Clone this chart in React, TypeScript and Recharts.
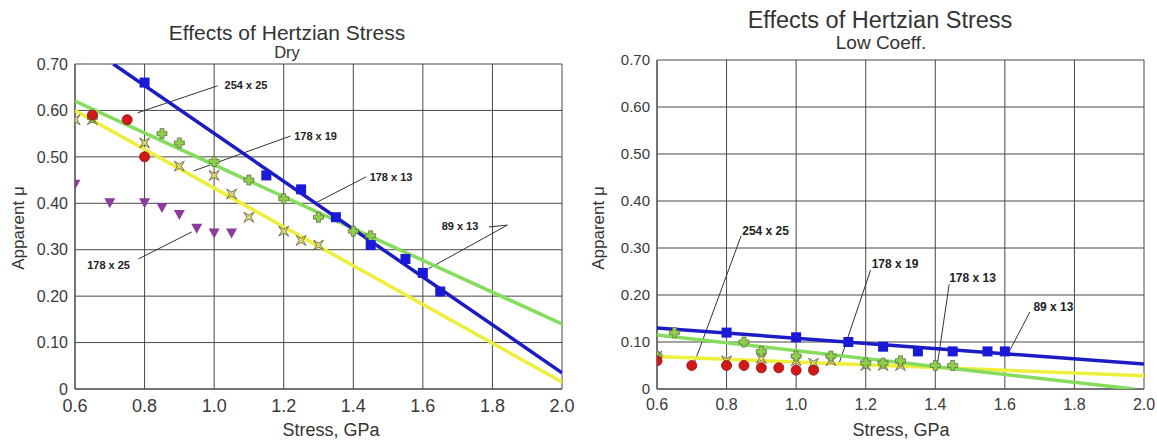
import React from 'react'
import { ScatterChart, Scatter, XAxis, YAxis, CartesianGrid, ReferenceLine, ReferenceDot } from 'recharts'

// stress ticks and friction ticks shared by both panels
const stressTicks = [0.6, 0.8, 1.0, 1.2, 1.4, 1.6, 1.8, 2.0]
const muTicks = [0, 0.1, 0.2, 0.3, 0.4, 0.5, 0.6, 0.7]

// Dry panel
const dryBlueStress = [0.8, 1.15, 1.25, 1.35, 1.45, 1.55, 1.6, 1.65]
const dryBlueMu = [0.66, 0.46, 0.43, 0.37, 0.31, 0.28, 0.25, 0.21]
const dryRedStress = [0.65, 0.75, 0.8]
const dryRedMu = [0.59, 0.58, 0.5]
const dryGreenStress = [0.65, 0.85, 0.9, 1.0, 1.1, 1.2, 1.3, 1.4, 1.45]
const dryGreenMu = [0.585, 0.55, 0.53, 0.49, 0.45, 0.41, 0.37, 0.34, 0.33]
const dryStarStress = [0.6, 0.65, 0.8, 0.9, 1.0, 1.05, 1.1, 1.2, 1.25, 1.3]
const dryStarMu = [0.58, 0.58, 0.53, 0.48, 0.46, 0.42, 0.37, 0.34, 0.32, 0.31]
const dryPurpleStress = [0.6, 0.7, 0.8, 0.85, 0.9, 0.95, 1.0, 1.05]
const dryPurpleMu = [0.44, 0.4, 0.4, 0.39, 0.375, 0.345, 0.335, 0.335]

const dryBlueFitStress = [0.71, 2.0]
const dryBlueFitMu = [0.7, 0.035]
const dryGreenFitStress = [0.6, 2.0]
const dryGreenFitMu = [0.62, 0.14]
const dryYellowFitStress = [0.6, 2.0]
const dryYellowFitMu = [0.6, 0.015]

// Low Coeff. panel
const lowBlueStress = [0.8, 1.0, 1.15, 1.25, 1.35, 1.45, 1.55, 1.6]
const lowBlueMu = [0.12, 0.11, 0.1, 0.09, 0.08, 0.08, 0.08, 0.08]
const lowGreenStress = [0.6, 0.65, 0.85, 0.9, 1.0, 1.1, 1.2, 1.25, 1.3, 1.4, 1.45]
const lowGreenMu = [0.07, 0.12, 0.1, 0.08, 0.07, 0.07, 0.055, 0.055, 0.06, 0.05, 0.05]
const lowRedStress = [0.6, 0.7, 0.8, 0.85, 0.9, 0.95, 1.0, 1.05]
const lowRedMu = [0.06, 0.05, 0.05, 0.05, 0.045, 0.045, 0.04, 0.04]
const lowStarStress = [0.6, 0.8, 0.9, 1.0, 1.05, 1.1, 1.2, 1.25, 1.3]
const lowStarMu = [0.07, 0.06, 0.065, 0.06, 0.055, 0.06, 0.05, 0.05, 0.05]

const lowBlueFitStress = [0.6, 2.0]
const lowBlueFitMu = [0.13, 0.053]
const lowGreenFitStress = [0.6, 1.97]
const lowGreenFitMu = [0.115, 0]
const lowYellowFitStress = [0.6, 2.0]
const lowYellowFitMu = [0.069, 0.028]

// callouts: label, text anchor (x, y), leader segments
const dryNotes = [
  { text: '254 x 25', at: [1.03, 0.655], lines: [[0.78, 0.595, 1.01, 0.653]] },
  { text: '178 x 19', at: [1.23, 0.545], lines: [[0.942, 0.47, 1.22, 0.545]] },
  { text: '178 x 13', at: [1.447, 0.457], lines: [[1.287, 0.399, 1.437, 0.457]] },
  { text: '89 x 13', at: [1.654, 0.351], lines: [[1.79, 0.349, 1.843, 0.353], [1.843, 0.353, 1.616, 0.259]] },
  { text: '178 x 25', at: [0.635, 0.267], lines: [[0.782, 0.28, 0.935, 0.338]] },
]
const lowNotes = [
  { text: '254 x 25', at: [0.845, 0.336], lines: [[0.842, 0.326, 0.705, 0.051]] },
  { text: '178 x 19', at: [1.217, 0.266], lines: [[1.214, 0.253, 1.122, 0.051]] },
  { text: '178 x 13', at: [1.44, 0.236], lines: [[1.44, 0.223, 1.405, 0.047]] },
  { text: '89 x 13', at: [1.682, 0.174], lines: [[1.672, 0.164, 1.612, 0.079]] },
]

const zip = (xs: number[], ys: number[]) => xs.map((x, i) => ({ x, y: ys[i] }))

const BLUE = '#1c1cc4'
const GREEN = '#86dc5c'
const YELLOW = '#eeee3c'
const FONT = '"Liberation Sans", Arial, sans-serif'

const square = (p: any) => <rect x={p.cx - 5} y={p.cy - 5} width={10} height={10} fill="#1a1ad6" />
const circle = (p: any) => <circle cx={p.cx} cy={p.cy} r={5} fill="#d41818" stroke="#8a1010" strokeWidth={0.8} />
const triangle = (p: any) => (
  <polygon points={`${p.cx - 5.5},${p.cy - 5} ${p.cx + 5.5},${p.cy - 5} ${p.cx},${p.cy + 5}`} fill="#8e3a9e" />
)
const plus = (p: any) => {
  const a = 5, b = 2
  const { cx, cy } = p
  const d = `M${cx - b},${cy - a}H${cx + b}V${cy - b}H${cx + a}V${cy + b}H${cx + b}V${cy + a}H${cx - b}V${cy + b}H${cx - a}V${cy - b}H${cx - b}Z`
  return <path d={d} fill="#8cd04a" stroke="#66704a" strokeWidth={0.8} />
}
const star = (p: any) => {
  const s = 5, k = 2
  const { cx, cy } = p
  const d = `M${cx - s},${cy - s}L${cx},${cy - k}L${cx + s},${cy - s}L${cx + k},${cy}L${cx + s},${cy + s}L${cx},${cy + k}L${cx - s},${cy + s}L${cx - k},${cy}Z`
  return <path d={d} fill="#e4dc6a" stroke="#6a6a50" strokeWidth={0.9} />
}
const none = () => <g />

function Panel({ left, top, width, yAxisWidth, rightMargin, xFont, yFont, noteFont, series, fits, notes }: any) {
  return (
    <div style={{ position: 'absolute', left, top: 0 }}>
      <ScatterChart width={width} height={441} margin={{ top, right: rightMargin, bottom: 0, left: 0 }}>
        <CartesianGrid stroke="#484848" strokeWidth={1} />
        <XAxis
          type="number"
          dataKey="x"
          domain={[0.6, 2.0]}
          ticks={stressTicks}
          tickFormatter={(v: number) => v.toFixed(1)}
          height={441 - 389}
          tickSize={0}
          tickMargin={10}
          axisLine={{ stroke: '#444' }}
          tick={{ fontSize: xFont, fill: '#3a3a3a', fontFamily: FONT }}
          allowDataOverflow
        />
        <YAxis
          type="number"
          dataKey="y"
          domain={[0, 0.7]}
          ticks={muTicks}
          tickFormatter={(v: number) => (v === 0 ? '0' : v.toFixed(2))}
          width={yAxisWidth}
          tickSize={0}
          tickMargin={7}
          axisLine={{ stroke: '#444' }}
          tick={{ fontSize: yFont, fill: '#3a3a3a', fontFamily: FONT }}
          allowDataOverflow
        />
        {fits.map((f: any, i: number) => (
          <Scatter key={'f' + i} data={f.data} line={{ stroke: f.color, strokeWidth: 3.5 }} shape={none} isAnimationActive={false} />
        ))}
        {notes.map((n: any, i: number) =>
          n.lines.map((l: number[], j: number) => (
            <ReferenceLine
              key={'l' + i + '-' + j}
              segment={[{ x: l[0], y: l[1] }, { x: l[2], y: l[3] }]}
              stroke="#333"
              strokeWidth={1}
              ifOverflow="visible"
            />
          ))
        )}
        {series.map((s: any, i: number) => (
          <Scatter key={'s' + i} data={s.data} shape={s.shape} isAnimationActive={false} />
        ))}
        {notes.map((n: any, i: number) => (
          <ReferenceDot
            key={'t' + i}
            x={n.at[0]}
            y={n.at[1]}
            r={0}
            ifOverflow="visible"
            shape={(p: any) => (
              <text x={p.cx} y={p.cy} dy="0.35em" fontSize={noteFont} fontWeight="bold" fill="#222" fontFamily={FONT}>
                {n.text}
              </text>
            )}
          />
        ))}
      </ScatterChart>
    </div>
  )
}

const label = (text: string, x: number, y: number, size: number, extra: any = {}) => (
  <div
    style={{
      position: 'absolute',
      left: x,
      top: y,
      transform: 'translate(-50%, -50%)' + (extra.rotate ? ' rotate(-90deg)' : ''),
      fontSize: size,
      fontFamily: FONT,
      color: '#333',
      whiteSpace: 'nowrap',
      lineHeight: 1,
    }}
  >
    {text}
  </div>
)

export default function App() {
  const drySeries = [
    { data: zip(dryPurpleStress, dryPurpleMu), shape: triangle },
    { data: zip(dryStarStress, dryStarMu), shape: star },
    { data: zip(dryGreenStress, dryGreenMu), shape: plus },
    { data: zip(dryRedStress, dryRedMu), shape: circle },
    { data: zip(dryBlueStress, dryBlueMu), shape: square },
  ]
  const dryFits = [
    { data: zip(dryYellowFitStress, dryYellowFitMu), color: YELLOW },
    { data: zip(dryGreenFitStress, dryGreenFitMu), color: GREEN },
    { data: zip(dryBlueFitStress, dryBlueFitMu), color: BLUE },
  ]
  const lowSeries = [
    { data: zip(lowStarStress, lowStarMu), shape: star },
    { data: zip(lowGreenStress, lowGreenMu), shape: plus },
    { data: zip(lowRedStress, lowRedMu), shape: circle },
    { data: zip(lowBlueStress, lowBlueMu), shape: square },
  ]
  const lowFits = [
    { data: zip(lowYellowFitStress, lowYellowFitMu), color: YELLOW },
    { data: zip(lowGreenFitStress, lowGreenFitMu), color: GREEN },
    { data: zip(lowBlueFitStress, lowBlueFitMu), color: BLUE },
  ]

  return (
    <div style={{ position: 'absolute', left: 0, top: 0, width: 1157, height: 441, background: '#fff', overflow: 'hidden' }}>
      <Panel left={0} top={64} width={600} yAxisWidth={75} rightMargin={38} xFont={18} yFont={16} noteFont={11}
        series={drySeries} fits={dryFits} notes={dryNotes} />
      <Panel left={600} top={60} width={557} yAxisWidth={57} rightMargin={13} xFont={16} yFont={15} noteFont={12}
        series={lowSeries} fits={lowFits} notes={lowNotes} />

      {label('Effects of Hertzian Stress', 287, 32, 21)}
      {label('Dry', 287, 52, 16.5)}
      {label('Stress, GPa', 331, 430, 18)}
      {label('Apparent μ', 18, 228, 17, { rotate: true })}

      {label('Effects of Hertzian Stress', 880, 21, 23.5)}
      {label('Low Coeff.', 881, 42, 19)}
      {label('Stress, GPa', 901, 430, 18)}
      {label('Apparent μ', 598, 228, 17, { rotate: true })}
    </div>
  )
}
